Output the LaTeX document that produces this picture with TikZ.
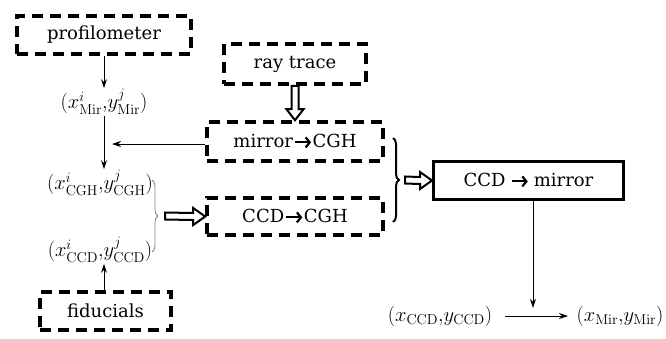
\RequirePackage{fix-cm}
\documentclass[tikz,border=0pt]{standalone}
\usepackage{amsmath}
\usepackage[no-math]{fontspec}
\setmainfont{DejaVu Serif}
\usetikzlibrary{arrows.meta,decorations.pathreplacing,calc}
\tikzset{
  dbox/.style={draw, line width=3.6pt, dash pattern=on 11pt off 7pt, rectangle, inner sep=0pt, font=\fontsize{18}{22}\selectfont},
  sbox/.style={draw, line width=3pt, rectangle, inner sep=0pt, font=\fontsize{18}{22}\selectfont},
  lbl/.style={inner sep=1pt, font=\fontsize{20.5}{25}\selectfont},
  thinarrow/.style={line width=1pt, -{Stealth[length=9pt,width=6pt]}},
  hollow/.style={line width=2pt, line join=miter, fill=white},
}
% comma without the usual math spacing
\newcommand{\cm}{\mathord{,}}
% heavy arrow used inside the box labels
\newsavebox{\harrbox}
\sbox{\harrbox}{\tikz[baseline=-5.5pt]{\draw[line width=2.2pt, -{Straight Barb[length=4pt,width=10pt]}] (0,0) -- (16pt,0);}}
\newcommand{\harr}{\raisebox{0pt}{\usebox{\harrbox}}}
\begin{document}
\begin{tikzpicture}[x=1pt,y=-1pt]
\useasboundingbox (0,0) rectangle (666,338);
% boxes
\node[dbox, minimum width=174pt, minimum height=38pt] (prof) at (104,35) {profilometer};
\node[dbox, minimum width=131pt, minimum height=38pt] (fid) at (105.5,311) {fiducials};
\node[dbox, minimum width=142pt, minimum height=40pt] (ray) at (295,64) {ray trace};
\node[dbox, minimum width=176pt, minimum height=39pt] (m2c) at (295,141.5) {mirror\kern1pt\harr\kern0.5ptCGH};
\node[dbox, minimum width=176pt, minimum height=37pt] (c2c) at (295,216.5) {CCD\kern1pt\harr\kern0.5ptCGH};
\node[sbox, minimum width=190pt, minimum height=38pt] (c2m) at (528.5,180.5) {CCD\kern5pt\harr\kern5pt mirror};
% coordinate labels
\node[lbl] (pmir) at (104,102) {$(x^{i}_{\mathrm{Mir}}\cm y^{j}_{\mathrm{Mir}})$};
\node[lbl] (pcgh) at (100,183) {$(x^{i}_{\mathrm{CGH}}\cm y^{j}_{\mathrm{CGH}})$};
\node[lbl] (pccd) at (100,250) {$(x^{i}_{\mathrm{CCD}}\cm y^{j}_{\mathrm{CCD}})$};
\node[lbl] (xccd) at (440,316) {$(x_{\mathrm{CCD}}\cm y_{\mathrm{CCD}})$};
\node[lbl] (xmir) at (620,316) {$(x_{\mathrm{Mir}}\cm y_{\mathrm{Mir}})$};
% free ends
\coordinate (back) at (112,144);
\coordinate (lbt) at (165,216);
\coordinate (rbt) at (405,180);
\coordinate (drop) at (533,308);
\coordinate (hs) at (505,316);
\coordinate (he) at (568,316);
% thin connectors
\draw[thinarrow] (prof.south) -- (prof.south |- pmir.north);
\draw[thinarrow] (prof.south |- pmir.south) -- (prof.south |- pcgh.north);
\draw[thinarrow] (m2c.west |- back) -- (back);
\draw[thinarrow] (fid.north -| prof.south) -- (prof.south |- pccd.south);
\draw[thinarrow] (c2m.south -| drop) -- (drop);
\draw[thinarrow] (hs) -- (he);
% hollow block arrows
\draw[hollow] ($(ray.south)+(-3.5,0)$) -- ($(m2c.north)+(-3.5,-11)$) -- ($(m2c.north)+(-8.5,-11)$)
  -- (m2c.north) -- ($(m2c.north)+(8.5,-11)$) -- ($(m2c.north)+(3.5,-11)$) -- ($(ray.south)+(3.5,0)$) -- cycle;
\draw[hollow] ($(lbt)+(0,-3.5)$) -- ($(c2c.west)+(-12,-3.5)$) -- ($(c2c.west)+(-12,-8.5)$)
  -- (c2c.west) -- ($(c2c.west)+(-12,8.5)$) -- ($(c2c.west)+(-12,3.5)$) -- ($(lbt)+(0,3.5)$) -- cycle;
\draw[hollow] ($(rbt)+(0,-3.5)$) -- ($(c2m.west)+(-12,-3.5)$) -- ($(c2m.west)+(-12,-8.5)$)
  -- (c2m.west) -- ($(c2m.west)+(-12,8.5)$) -- ($(c2m.west)+(-12,3.5)$) -- ($(rbt)+(0,3.5)$) -- cycle;
% braces
\draw[gray, line width=0.8pt, decorate, decoration={brace, amplitude=6pt}] (152,180) -- (152,252);
\draw[line width=2pt, decorate, decoration={brace, amplitude=6pt}] (393,138) -- (393,222);
\end{tikzpicture}
\end{document}
